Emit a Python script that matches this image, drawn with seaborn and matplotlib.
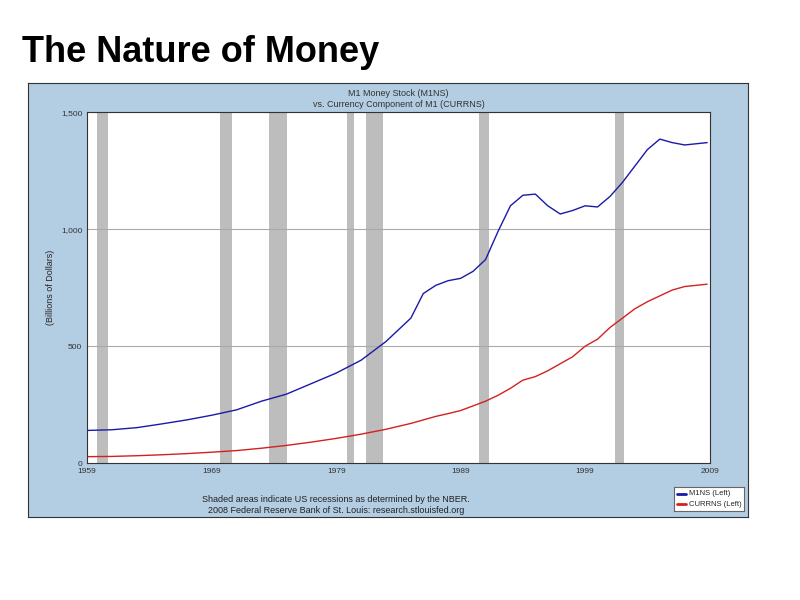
import matplotlib.pyplot as plt
import seaborn as sns
import pandas as pd

years = [1959, 1961, 1963, 1965, 1967, 1969, 1971, 1973, 1975, 1977, 1979, 1981,
         1983, 1985, 1986, 1987, 1988, 1989, 1990, 1991, 1992, 1993, 1994,
         1995, 1996, 1997, 1998, 1999, 2000, 2001, 2002, 2003, 2004, 2005,
         2006, 2007, 2008.8]
m1ns = [140, 143, 152, 168, 185, 205, 228, 265, 295, 340, 385, 440,
        520, 620, 725, 760, 780, 790, 820, 870, 990, 1100, 1145,
        1150, 1100, 1065, 1080, 1100, 1095, 1140, 1200, 1270, 1340, 1385,
        1370, 1360, 1370]
currns = [28, 29, 32, 36, 41, 47, 54, 64, 76, 90, 106, 124,
          145, 170, 185, 200, 212, 225, 245, 265, 290, 320, 355,
          370, 395, 425, 455, 500, 530, 580, 620, 660, 690, 715,
          740, 755, 765]
recessions = [(1959.8, 1960.7), (1969.7, 1970.6), (1973.6, 1975.05), (1979.9, 1980.4),
              (1981.4, 1982.8), (1990.5, 1991.3), (2001.4, 2002.1)]
x_ticks = [1959, 1969, 1979, 1989, 1999, 2009]
y_ticks = [0, 500, 1000, 1500]
y_labels = ['0', '500', '1,000', '1,500']

df = pd.DataFrame({'year': years * 2, 'value': m1ns + currns,
                   'series': ['M1NS (Left)'] * len(years) + ['CURRNS (Left)'] * len(years)})

sns.set_style("white")
plt.rcParams['font.family'] = ['Liberation Sans', 'DejaVu Sans']

fig = plt.figure(figsize=(8, 6), dpi=100)
fig.text(0.027, 0.897, 'The Nature of Money', fontsize=26, fontweight='bold', color='black')

# FRED chart panel (background axes)
bg = fig.add_axes([0.035, 0.138, 0.9, 0.724], zorder=-1)
bg.set_facecolor('#b3cde3')
bg.set_xticks([]); bg.set_yticks([])
for s in bg.spines.values():
    s.set_color('#333333')

ax = fig.add_axes([0.109, 0.228, 0.778, 0.585])
ax.set_facecolor('white')
for a, b in recessions:
    ax.axvspan(a, b, color='#bdbdbd', lw=0)
for y in y_ticks[1:]:
    ax.axhline(y, color='#aaaaaa', lw=0.8)
sns.lineplot(data=df, x='year', y='value', hue='series', ax=ax,
             palette={'M1NS (Left)': '#1a1aa8', 'CURRNS (Left)': '#d42020'},
             lw=1, legend=False)
ax.set_xlim(1959, 2009)
ax.set_ylim(0, 1500)
ax.set_xticks(x_ticks)
ax.set_yticks(y_ticks, y_labels)
ax.tick_params(labelsize=6, length=0, colors='#333333')
ax.set_xlabel('')
ax.set_ylabel('(Billions of Dollars)', fontsize=6.5)
for s in ax.spines.values():
    s.set_color('#333333')
    s.set_linewidth(0.8)
ax.set_title('M1 Money Stock (M1NS)\nvs. Currency Component of M1 (CURRNS)',
             fontsize=6.5, color='#333333', pad=4)

fig.text(0.42, 0.158, 'Shaded areas indicate US recessions as determined by the NBER.\n'
         '2008 Federal Reserve Bank of St. Louis: research.stlouisfed.org',
         fontsize=6.5, ha='center', va='center', color='#222222', linespacing=1.3)
lax = fig.add_axes([0.842, 0.148, 0.088, 0.04])
lax.set_xticks([]); lax.set_yticks([])
lax.set_xlim(0, 1); lax.set_ylim(0, 1)
lax.plot([0.05, 0.17], [0.72, 0.72], color='#1a1aa8', lw=2)
lax.plot([0.05, 0.17], [0.28, 0.28], color='#d42020', lw=2)
lax.text(0.22, 0.72, 'M1NS (Left)', fontsize=5.5, va='center')
lax.text(0.22, 0.28, 'CURRNS (Left)', fontsize=5.5, va='center')
for s in lax.spines.values():
    s.set_color('#666666')

fig.savefig('out.png', dpi=100)
